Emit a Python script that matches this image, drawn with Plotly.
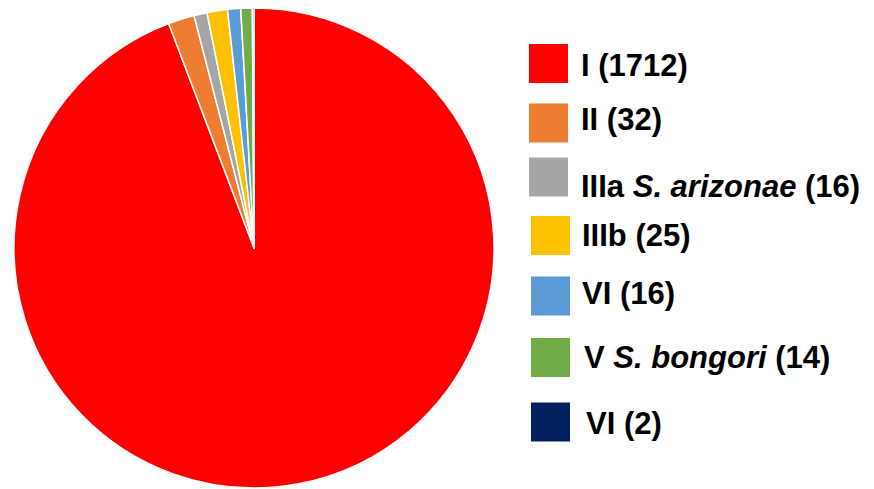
import plotly.graph_objects as go

W, H = 874, 489
OFF = 8  # page body margin offset in the browser

labels = ["I", "II", "IIIa S. arizonae", "IIIb", "VI", "V S. bongori", "VI"]
legend_texts = [
    "<b>I (1712)</b>",
    "<b>II (32)</b>",
    "<b>IIIa <i>S. arizonae</i> (16)</b>",
    "<b>IIIb (25)</b>",
    "<b>VI (16)</b>",
    "<b>V <i>S. bongori</i> (14)</b>",
    "<b>VI (2)</b>",
]
values = [1712, 32, 16, 25, 16, 14, 2]
colors = ["#FF0000", "#ED7D31", "#A5A5A5", "#FFC000", "#5B9BD5", "#70AD47", "#002060"]

# legend layout (screen pixels)
sq_x = [529, 529, 529, 531, 531, 531, 531]
sq_cy = [63.5, 123, 177, 235.5, 296, 357.5, 422]
sq_size = 39
txt_x = [582, 582, 582, 583, 583, 585, 587]
txt_cy = [66, 120, 187, 236.5, 294, 358, 424.5]

cx, cy, r = 254 - OFF, 248 - OFF, 240

fig = go.Figure()
fig.add_trace(go.Pie(
    labels=[f"{l} {i}" for i, l in enumerate(labels)],
    values=values,
    marker=dict(colors=colors, line=dict(color="white", width=1.5)),
    sort=False,
    direction="clockwise",
    rotation=0,
    textinfo="none",
    showlegend=False,
    domain=dict(x=[(cx - r) / W, (cx + r) / W], y=[(H - cy - r) / H, (H - cy + r) / H]),
))

shapes = []
annotations = []
for i in range(len(values)):
    x0 = sq_x[i] - OFF
    y0 = sq_cy[i] - OFF - sq_size / 2
    shapes.append(dict(
        type="rect", xref="paper", yref="paper",
        x0=x0 / W, x1=(x0 + sq_size) / W,
        y0=1 - (y0 + sq_size) / H, y1=1 - y0 / H,
        fillcolor=colors[i], line=dict(width=0),
    ))
    annotations.append(dict(
        text=legend_texts[i], xref="paper", yref="paper",
        x=(txt_x[i] - OFF) / W, y=1 - (txt_cy[i] - OFF - 1) / H,
        xanchor="left", yanchor="middle", showarrow=False,
        xshift=-3,
        font=dict(family="Liberation Sans, Arial, sans-serif", size=31, color="black"),
    ))

fig.update_layout(
    width=W, height=H,
    margin=dict(l=0, r=0, t=0, b=0),
    paper_bgcolor="white", plot_bgcolor="white",
    shapes=shapes, annotations=annotations,
)

fig.write_html("out.html")
